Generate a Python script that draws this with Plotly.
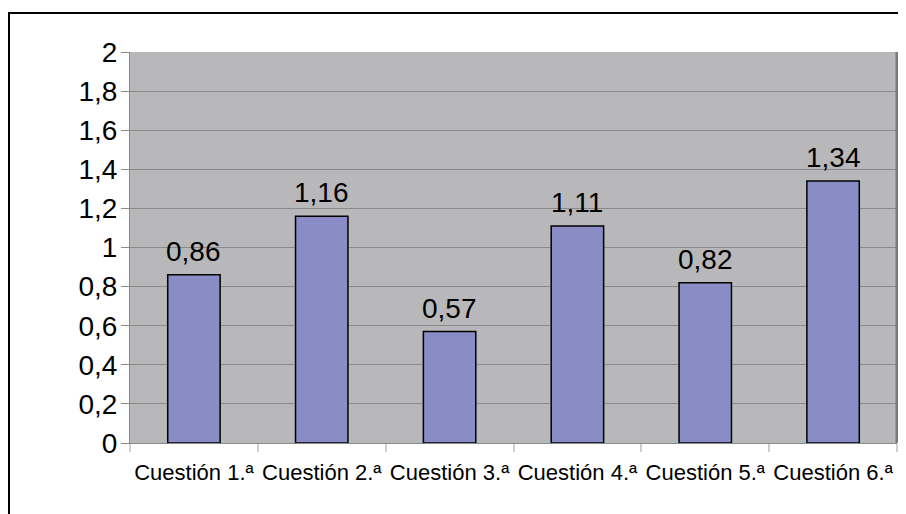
import plotly.graph_objects as go

categories = ["Cuestión 1.ª", "Cuestión 2.ª", "Cuestión 3.ª", "Cuestión 4.ª", "Cuestión 5.ª", "Cuestión 6.ª"]
values = [0.86, 1.16, 0.57, 1.11, 0.82, 1.34]
value_labels = ["0,86", "1,16", "0,57", "1,11", "0,82", "1,34"]
y_ticks = [0, 0.2, 0.4, 0.6, 0.8, 1, 1.2, 1.4, 1.6, 1.8, 2]

# page has an 8px body margin; figure coordinates = screen - 8
W, H = 898, 506
L, R, T, B = 122, 9, 44, 71
pw, ph = W - L - R, H - T - B

x_pos = list(range(len(categories)))

fig = go.Figure(go.Bar(
    x=x_pos, y=values, width=0.41,
    marker=dict(color="#8a8cc5", line=dict(color="#000000", width=1.5)),
    hoverinfo="skip",
))

for xi, v, lab in zip(x_pos, values, value_labels):
    fig.add_annotation(x=xi, y=v, text=lab, showarrow=False, yanchor="bottom",
                       yshift=6, font=dict(size=28, color="#000000"))

def px_x(p):
    return (p - L) / pw

def px_y(p):
    return (H - B - p) / ph

fig.update_layout(
    width=W, height=H,
    margin=dict(l=L, r=R, t=T, b=B),
    paper_bgcolor="#ffffff", plot_bgcolor="#b8b8bb",
    separators=",.",
    font=dict(family="Liberation Sans, Arial, sans-serif", color="#000000"),
    showlegend=False,
    xaxis=dict(
        range=[-0.5, 5.5], tickvals=x_pos, ticktext=categories,
        ticks="", showgrid=False, zeroline=False,
        tickfont=dict(size=22), ticklabelstandoff=10,
        showline=True, linecolor="#8a8a8a", linewidth=1,
        minor=dict(tickvals=[i - 0.5 for i in range(len(categories) + 1)],
                   ticks="outside", ticklen=8, tickcolor="#cfcfcf", tickwidth=2, showgrid=False),
    ),
    yaxis=dict(
        range=[0, 2], tickvals=y_ticks, ticks="outside", ticklen=8, tickcolor="#8a8a8a",
        showgrid=True, gridcolor="#8a8a8a", gridwidth=1, zeroline=False,
        showline=True, linecolor="#8a8a8a", linewidth=1,
        tickfont=dict(size=28), ticklabelstandoff=-2,
    ),
    shapes=[
        dict(type="rect", xref="paper", yref="paper",
             x0=px_x(1), x1=px_x(W + 20), y0=px_y(H + 20), y1=px_y(5),
             line=dict(color="#000000", width=2), fillcolor="rgba(0,0,0,0)", layer="below"),
        dict(type="line", xref="paper", yref="paper",
             x0=1, x1=1, y0=0, y1=1, line=dict(color="#7a7a7a", width=3)),
    ],
)

fig.write_html("out.html")
